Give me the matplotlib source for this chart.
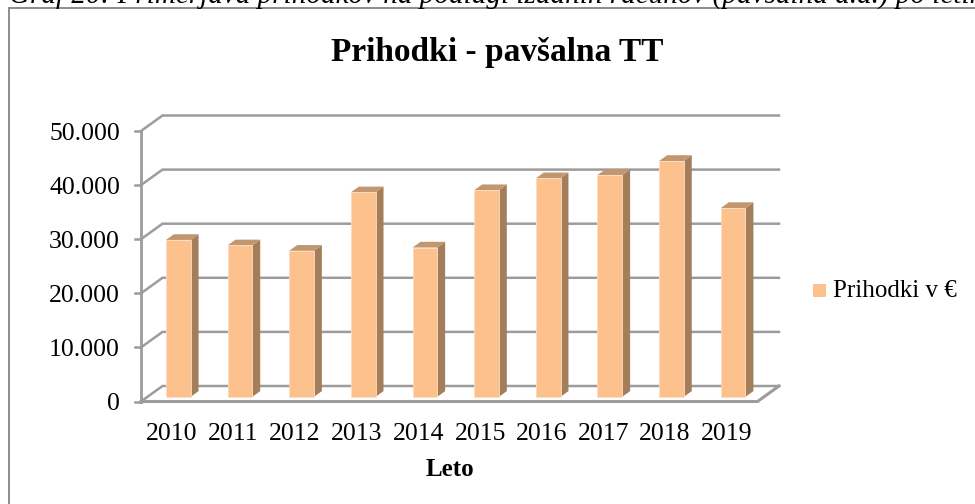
import matplotlib
matplotlib.use("Agg")
import matplotlib.pyplot as plt
from matplotlib.patches import Polygon, Rectangle
from matplotlib.lines import Line2D

years = ["2010", "2011", "2012", "2013", "2014", "2015", "2016", "2017", "2018", "2019"]
prihodki = [29000, 28000, 27000, 37800, 27600, 38200, 40400, 41000, 43600, 34900]
y_ticks = [0, 10000, 20000, 30000, 40000, 50000]
y_labels = ["0", "10.000", "20.000", "30.000", "40.000", "50.000"]
title = "Prihodki - pavšalna TT"
x_title = "Leto"
legend_label = "Prihodki v €"
caption = "Graf 20: Primerjava prihodkov na podlagi izdanih računov (pavšalna d.d.) po letih"

W, H = 975, 504
plt.rcParams["font.family"] = ["Liberation Serif", "DejaVu Serif"]
fig = plt.figure(figsize=(W / 100, H / 100), dpi=100, facecolor="white")

def fx(px): return px / W
def fy(py): return 1 - py / H

L, R, B, T = 141, 757.5, 401.5, 131
ax = fig.add_axes([fx(L), fy(B), (R - L) / W, (B - T) / H])
ax.set_xlim(0, len(years))
ax.set_ylim(0, 50000)
ax.axis("off")

# depth of the 3D box expressed in data units
DX = 21.5 / ((R - L) / len(years))
DY = 15.5 / ((B - T) / 50000)
GRID = "#9C9C9C"

for v in y_ticks:
    ax.plot([0, DX, len(years) + DX], [v, v + DY, v + DY], color=GRID, lw=1.8,
            clip_on=False, zorder=1, solid_joinstyle="miter")
    ax.plot([-0.1, 0], [v, v], color=GRID, lw=1.8, clip_on=False, zorder=1)
ax.plot([0, 0], [0, 50000], color=GRID, lw=2, clip_on=False, zorder=1)
ax.plot([0, len(years), len(years) + DX], [0, 0, DY], color=GRID, lw=2.2,
        clip_on=False, zorder=1, solid_joinstyle="miter")

# bars
BW = 0.40
D0, D1 = 0.30, 0.67
for i, v in enumerate(prihodki):
    x0 = i + 0.5 - BW / 2 + D0 * DX
    x1 = x0 + BW
    b = D0 * DY
    t = b + v
    ddx, ddy = (D1 - D0) * DX, (D1 - D0) * DY
    ax.add_patch(Polygon([(x1, b), (x1 + ddx, b + ddy), (x1 + ddx, t + ddy), (x1, t)],
                         fc="#A47D5B", ec="none", clip_on=False, zorder=3))
    ax.add_patch(Polygon([(x0, t), (x1, t), (x1 + ddx, t + ddy), (x0 + ddx, t + ddy)],
                         fc="#C29770", ec="none", clip_on=False, zorder=3))
    ax.add_patch(Rectangle((x0, b), BW, v, fc="#FCC18D", ec="#FDDCBF", lw=0.6,
                           clip_on=False, zorder=4))

# labels
for v, s in zip(y_ticks, y_labels):
    ax.annotate(s, (0, v), xytext=(-21, -3), textcoords="offset pixels",
                ha="right", va="center", fontsize=18.5, color="black", annotation_clip=False)
for i, s in enumerate(years):
    ax.annotate(s, (i + 0.5, 0), xytext=(0, -32), textcoords="offset pixels",
                ha="center", va="center", fontsize=18.5, color="black", annotation_clip=False)

fig.text(fx(497), fy(52), title, ha="center", va="center", fontsize=24, fontweight="bold")
fig.text(fx(449.5), fy(469), x_title, ha="center", va="center", fontsize=18, fontweight="bold")
fig.text(fx(833), fy(291), legend_label, ha="left", va="center", fontsize=18)
fig.add_artist(Rectangle((fx(813), fy(297)), 13 / W, 13 / H, transform=fig.transFigure,
                         fc="#FCC18D", ec="none"))

# outer frame and clipped caption above it
fig.add_artist(Line2D([fx(9), fx(9), 1], [0, fy(7.5), fy(7.5)], transform=fig.transFigure,
                      color="#8C8C8C", lw=1.4, solid_joinstyle="miter"))
fig.text(fx(9), fy(3), caption, ha="left", va="baseline", fontsize=21, style="italic")

fig.savefig("out.png", dpi=100)
